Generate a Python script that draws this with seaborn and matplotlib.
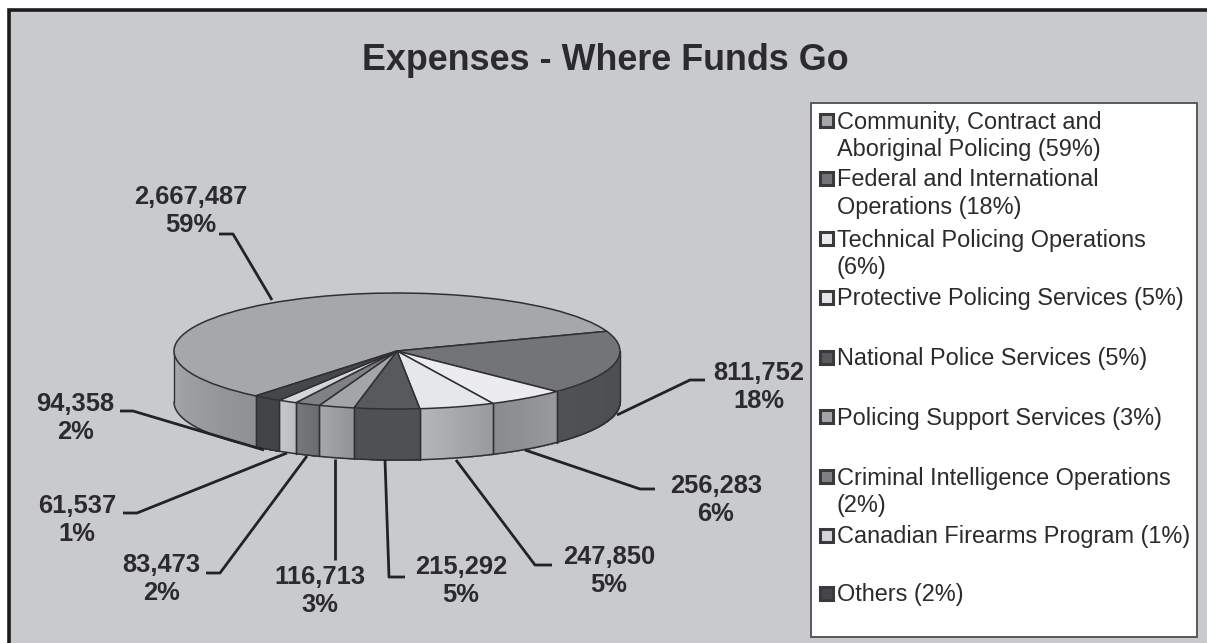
import numpy as np
import matplotlib
matplotlib.use("Agg")
import matplotlib.pyplot as plt
from matplotlib.patches import Rectangle
import seaborn as sns

categories = ["Community, Contract and\nAboriginal Policing (59%)",
              "Federal and International\nOperations (18%)",
              "Technical Policing Operations\n(6%)",
              "Protective Policing Services (5%)",
              "National Police Services (5%)",
              "Policing Support Services (3%)",
              "Criminal Intelligence Operations\n(2%)",
              "Canadian Firearms Program (1%)",
              "Others (2%)"]
values = [2667487, 811752, 256283, 247850, 215292, 116713, 83473, 61537, 94358]
percents = [59, 18, 6, 5, 5, 3, 2, 1, 2]

top_colors = ["#a6a7a9", "#737476", "#ececee", "#e6e7e9", "#58595b",
              "#a4a5a7", "#808183", "#d4d5d7", "#46474a"]
# side wall shading, left and right end of each slice
side_left = ["#a8a9ab", "#505153", "#8a8b8d", "#b4b5b7", "#4f5052",
             "#a6a7a9", "#77787a", "#c6c7c9", "#434446"]
side_right = ["#8f9092", "#4d4e50", "#98999b", "#9a9b9d", "#4f5052",
              "#929395", "#6c6d6f", "#bcbdbf", "#434446"]

bg = "#c9cacc"
ink = "#2b2b2d"
start = 230.7

sns.set_theme(style="white")
plt.rcParams["font.family"] = ["Liberation Sans", "DejaVu Sans"]

W, H = 1207, 643
fig = plt.figure(figsize=(W / 100, H / 100), dpi=100, facecolor="white")


def pixel_axes(z):
    a = fig.add_axes([0, 0, 1, 1], zorder=z)
    a.set_xlim(0, W)
    a.set_ylim(H, 0)
    a.axis("off")
    return a


# panel behind everything, labels and legend above the pie
back = pixel_axes(0)
back.add_patch(Rectangle((8.5, 9.5), 1300, 700, fc=bg, ec="#1c1c1e", lw=2.6))
ov = pixel_axes(2)

ov.text(605, 60, "Expenses - Where Funds Go", ha="center", va="center",
        fontsize=25.8, fontweight="bold", color=ink)

# pie axes: stretched so the circle becomes the tilted ellipse
cx, cy, a, b, depth = 397, 351, 223, 58, 51
ax = fig.add_axes([(cx - a) / W, 1 - (cy + b) / H, 2 * a / W, 2 * b / H], zorder=1)
ax.patch.set_alpha(0)
d = depth / b

wedges, _ = ax.pie(values, colors=top_colors, startangle=start, counterclock=False,
                   radius=1, center=(0, 0),
                   wedgeprops=dict(edgecolor="#303032", linewidth=1.1, zorder=5))
ax.set_aspect("auto")
ax.set_xlim(-1, 1)
ax.set_ylim(-1, 1)
ax.axis("off")

# side wall from the slice angles
for w, cl, cr in zip(wedges, side_left, side_right):
    t1, t2 = w.theta1 % 360, w.theta2 % 360
    if t2 <= t1:
        t2 += 360
    for lo, hi in [(t1, t2), (t1 + 360, t2 + 360), (t1 - 360, t2 - 360)]:
        lo, hi = max(lo, 180), min(hi, 360)
        if hi <= lo:
            continue
        edges = np.linspace(lo, hi, 25)
        shades = sns.blend_palette([cl, cr], 24)
        # each strip runs to the slice end, the next one paints over it (no seams)
        for e0, c in zip(edges[:-1], shades):
            th = np.radians(np.linspace(e0, hi, 30))
            xs = np.cos(th)
            ys = np.sin(th)
            ax.fill_between(xs, ys, ys - d, color=c, lw=0, zorder=2, clip_on=False)
        for e in (lo, hi):
            x = np.cos(np.radians(e))
            y = np.sin(np.radians(e))
            ax.plot([x, x], [y, y - d], color="#303032", lw=1.0, zorder=3, clip_on=False)

th = np.radians(np.linspace(180, 360, 200))
ax.plot(np.cos(th), np.sin(th) - d, color="#303032", lw=1.1, zorder=3, clip_on=False)

# data labels and leader lines
labels = [f"{v:,}\n{p}%" for v, p in zip(values, percents)]
label_pos = [(191, 211), (759, 387), (716, 500), (609, 571), (461, 581),
             (320, 591), (161, 579), (77, 520), (75, 418)]
leaders = [[(219, 234), (233, 234), (272, 300)],
           [(617, 415), (690, 380), (705, 380)],
           [(525, 450), (640, 489), (655, 489)],
           [(456, 460), (535, 565), (552, 565)],
           [(385, 460), (389, 577), (405, 577)],
           [(335, 459), (335, 560)],
           [(307, 456), (220, 573), (206, 573)],
           [(287, 453), (137, 513), (123, 513)],
           [(264, 450), (133, 411), (120, 411)]]
for txt, (x, y), pts in zip(labels, label_pos, leaders):
    ov.text(x, y, txt, ha="center", va="center", fontsize=18.4, fontweight="bold",
            color=ink, linespacing=1.2)
    ov.plot(*zip(*pts), color="#232325", lw=2.0, solid_capstyle="butt")

# legend box
ov.add_patch(Rectangle((811, 103), 386, 534, fc="white", ec="#58585a", lw=1.4, zorder=1))
row_y = [120, 178, 238, 297, 357, 416, 476, 535, 593]
for name, c, y in zip(categories, top_colors, row_y):
    ov.add_patch(Rectangle((820, y - 6.5), 12.5, 13, fc=c, ec="#3a3a3c", lw=2.2, zorder=2))
    ov.text(837, y - 9.5, name, ha="left", va="top", fontsize=16.9, color=ink,
            linespacing=1.24, zorder=3)

fig.savefig("out.png", dpi=100, facecolor="white")
